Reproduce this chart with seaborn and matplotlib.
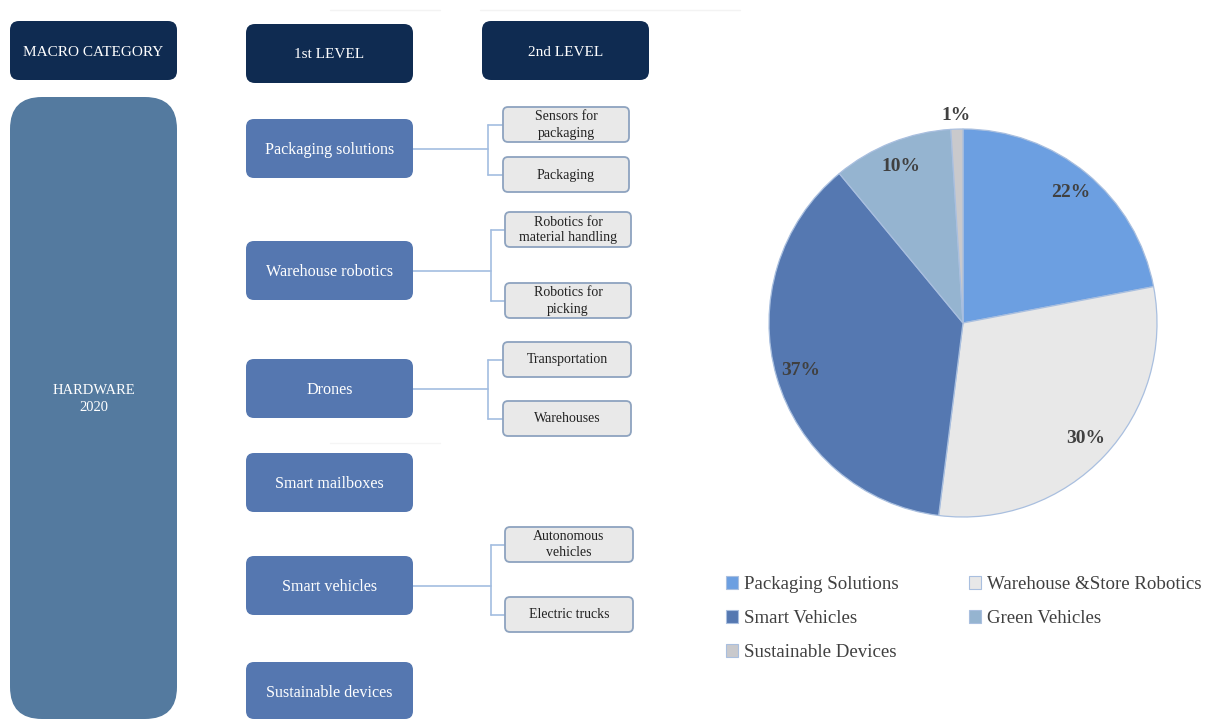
import matplotlib
matplotlib.use("Agg")
import matplotlib.pyplot as plt
from matplotlib.patches import FancyBboxPatch, Patch
import numpy as np
import seaborn as sns

# ---- data -------------------------------------------------------------
headers = ["MACRO CATEGORY", "1st LEVEL", "2nd LEVEL"]
macro_label = "HARDWARE\n2020"
level1 = ["Packaging solutions", "Warehouse robotics", "Drones",
          "Smart mailboxes", "Smart vehicles", "Sustainable devices"]
level2 = [
    ["Sensors for\npackaging", "Packaging"],
    ["Robotics for\nmaterial handling", "Robotics for\npicking"],
    ["Transportation", "Warehouses"],
    [],
    ["Autonomous\nvehicles", "Electric trucks"],
    [],
]
pie_labels = ["Packaging Solutions", "Warehouse &Store Robotics", "Smart Vehicles",
              "Green Vehicles", "Sustainable Devices"]
pie_shares = [22, 30, 37, 10, 1]

# ---- style ------------------------------------------------------------
sns.set_theme(style="white")
plt.rcParams["font.family"] = ["Liberation Serif", "DejaVu Serif"]

navy = "#0f2b51"
macro_col = "#547a9f"
lvl1_col = "#5577b0"
lvl2_face = "#e9e9e9"
lvl2_edge = "#8ea3bf"
link_col = "#a3bde0"
pie_colors = sns.color_palette(["#6c9fe1", "#e8e8e8", "#5578b1", "#95b4d0", "#c9c9cc"])

W, H = 1209, 720
fig = plt.figure(figsize=(W / 100, H / 100), dpi=100)

# ---- hierarchy diagram (pixel-space canvas) ---------------------------
dg = fig.add_axes([0, 0, 1, 1])
dg.set_xlim(0, W)
dg.set_ylim(H, 0)
dg.axis("off")


def box(x0, y0, x1, y1, face, edge="none", lw=0, r=8, z=2):
    p = FancyBboxPatch((x0, y0), x1 - x0, y1 - y0,
                       boxstyle=f"round,pad=0,rounding_size={r}",
                       facecolor=face, edgecolor=edge, linewidth=lw, zorder=z)
    dg.add_patch(p)


# faint rules near the top
dg.plot([330, 440], [10, 10], color="#f3f3f3", lw=1, zorder=1)
dg.plot([480, 740], [10, 10], color="#f3f3f3", lw=1, zorder=1)
dg.plot([330, 440], [443, 443], color="#f5f5f5", lw=1, zorder=1)

# column headers
header_boxes = [(10, 21, 177, 80), (246, 24, 413, 83), (482, 21, 649, 80)]
for (x0, y0, x1, y1), t in zip(header_boxes, headers):
    box(x0, y0, x1, y1, navy, r=9)
    dg.text((x0 + x1) / 2, (y0 + y1) / 2 + 1.5, t, color="white", fontsize=11,
            ha="center", va="center", zorder=3)

# macro category column
box(10, 97, 177, 719, macro_col, r=32)
dg.text(93.5, 399, macro_label, color="white", fontsize=10.5, ha="center",
        va="center", linespacing=1.45, zorder=3)

# first-level boxes with their second-level children
lvl1_tops = [119, 241, 359, 453, 556, 662]
lvl1_h = 59
lvl2_tops = [[107, 157], [212, 283], [342, 401], [], [527, 597], []]
lvl2_x = [(503, 629), (505, 631), (503, 631), None, (505, 633), None]
elbow_x = [488, 491, 488, None, 491, None]
lvl2_h = 35

for i, name in enumerate(level1):
    y0 = lvl1_tops[i]
    y1 = min(y0 + lvl1_h, 719)
    box(246, y0, 413, y1, lvl1_col, r=8)
    cy = (y0 + y0 + lvl1_h) / 2
    dg.text(329.5, cy + 1.5, name, color="white", fontsize=11.6, ha="center",
            va="center", zorder=3)
    kids = level2[i]
    if not kids:
        continue
    ex = elbow_x[i]
    bx0, bx1 = lvl2_x[i]
    mids = [t + lvl2_h / 2 for t in lvl2_tops[i]]
    dg.plot([413, ex], [cy, cy], color=link_col, lw=1.2, zorder=1)
    dg.plot([ex, ex], [mids[0], mids[-1]], color=link_col, lw=1.2, zorder=1)
    for t, m, label in zip(lvl2_tops[i], mids, kids):
        dg.plot([ex, bx0], [m, m], color=link_col, lw=1.2, zorder=1)
        box(bx0, t, bx1, t + lvl2_h, lvl2_face, edge=lvl2_edge, lw=1.3, r=5)
        dg.text((bx0 + bx1) / 2, m + 0.5, label, color="#222222", fontsize=10,
                ha="center", va="center", linespacing=1.3, zorder=3)

# ---- pie chart --------------------------------------------------------
cx, cy, rad = 963, 323, 194
pie_ax = fig.add_axes([(cx - rad) / W, (H - cy - rad) / H, 2 * rad / W, 2 * rad / H])
wedges, _ = pie_ax.pie(pie_shares, colors=pie_colors, startangle=90,
                       counterclock=False, radius=1,
                       wedgeprops=dict(edgecolor="#a9bfdf", linewidth=0.9))
pie_ax.set_xlim(-1, 1)
pie_ax.set_ylim(-1, 1)
pie_ax.set_aspect("equal")
pie_ax.axis("off")

total = float(sum(pie_shares))
start = 90.0
for w, v in zip(wedges, pie_shares):
    sweep = 360.0 * v / total
    mid = np.deg2rad(start - sweep / 2)
    dist = 0.87 if v >= 5 else 1.07
    pie_ax.text(dist * np.cos(mid), dist * np.sin(mid), f"{v}%",
                ha="center", va="center", fontsize=14, fontweight="bold",
                color="#404040", clip_on=False)
    start -= sweep

# legend laid out row by row
order = [0, 2, 4, 1, 3]
handles = [Patch(facecolor=pie_colors[k], edgecolor="#a9bfdf", linewidth=0.8)
           for k in order]
fig.legend(handles, [pie_labels[k] for k in order], ncol=2, frameon=False,
           loc="upper left", bbox_to_anchor=(726 / W, 1 - 576 / H),
           fontsize=13.6, handlelength=0.64, handleheight=0.64,
           handletextpad=0.3, columnspacing=3.75, labelspacing=0.9,
           labelcolor="#404040", borderaxespad=0, borderpad=0)

fig.savefig("out.png", dpi=100, facecolor="white")
